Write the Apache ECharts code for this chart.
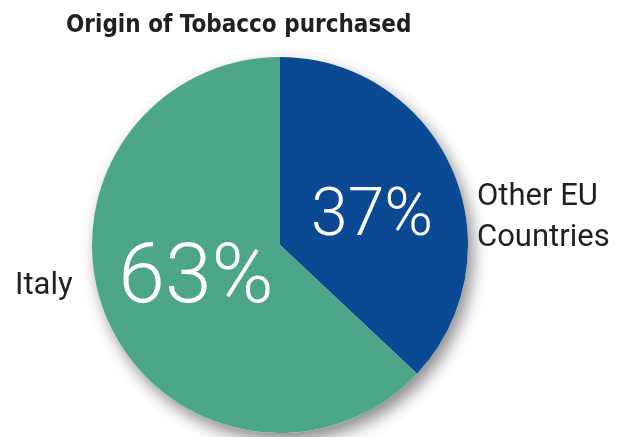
<!DOCTYPE html>
<html>
<head>
<meta charset="utf-8">
<script src="https://cdn.jsdelivr.net/npm/echarts@6/dist/echarts.min.js"></script>
<style>
  html, body { margin: 0; padding: 0; background: #fff; }
  #main { width: 620px; height: 437px; }
</style>
</head>
<body>
<div id="main"></div>
<script>
// chart data
var categories = ['Other EU\nCountries', 'Italy'];
var values = [37, 63];
var colors = ['#0b4a92', '#4ea68a'];

var chart = echarts.init(document.getElementById('main'));

var pieData = categories.map(function (name, i) {
  return { name: name, value: values[i], itemStyle: { color: colors[i] } };
});

// label nudges (layout only)
var namePos = [
  { x: 477, y: 218, align: 'left' },
  { x: 15, y: 286, align: 'left' }
];
var valueShift = [
  { dx: 3, dy: 12 },
  { dx: 5, dy: -3 }
];

var option = {
  animation: false,
  title: {
    text: 'Origin of Tobacco purchased',
    left: 61,
    top: 9,
    textStyle: {
      fontFamily: 'DejaVu Sans Condensed',
      fontWeight: 'bold',
      fontSize: 24,
      color: '#231f20'
    }
  },
  series: [
    {
      // shadow disc under the pie
      type: 'pie',
      silent: true,
      center: [280, 245],
      radius: [0, 188],
      z: 1,
      label: { show: false },
      labelLine: { show: false },
      itemStyle: {
        color: '#fff',
        shadowBlur: 16,
        shadowOffsetX: 5,
        shadowOffsetY: 8,
        shadowColor: 'rgba(0,0,0,0.45)'
      },
      data: [{ value: 1 }]
    },
    {
      type: 'pie',
      center: [280, 245],
      radius: [0, 188],
      startAngle: 90,
      clockwise: true,
      z: 2,
      label: {
        show: true,
        position: 'inside',
        formatter: function (p) { return p.value + '%'; },
        color: '#fff',
        fontFamily: 'Roboto',
        fontWeight: 300,
        overflow: 'none'
      },
      labelLine: { show: false },
      labelLayout: function (p) {
        return valueShift[p.dataIndex];
      },
      itemStyle: { borderWidth: 0 },
      data: pieData.map(function (d, i) {
        return {
          name: d.name,
          value: d.value,
          itemStyle: d.itemStyle,
          label: { fontSize: i === 0 ? 66 : 84 }
        };
      })
    },
    {
      // transparent copy carrying the outside names
      type: 'pie',
      silent: true,
      center: [280, 245],
      radius: [0, 188],
      startAngle: 90,
      clockwise: true,
      z: 3,
      itemStyle: { color: 'rgba(0,0,0,0)' },
      label: {
        show: true,
        position: 'outside',
        color: '#231f20',
        fontFamily: 'Roboto',
        fontSize: 31,
        lineHeight: 41,
        overflow: 'none',
        width: 300
      },
      labelLine: { show: false },
      labelLayout: function (p) {
        var pos = namePos[p.dataIndex];
        return { x: pos.x, y: pos.y, align: pos.align, verticalAlign: 'middle' };
      },
      data: pieData.map(function (d) { return { name: d.name, value: d.value }; })
    }
  ]
};

chart.setOption(option);
</script>
</body>
</html>
